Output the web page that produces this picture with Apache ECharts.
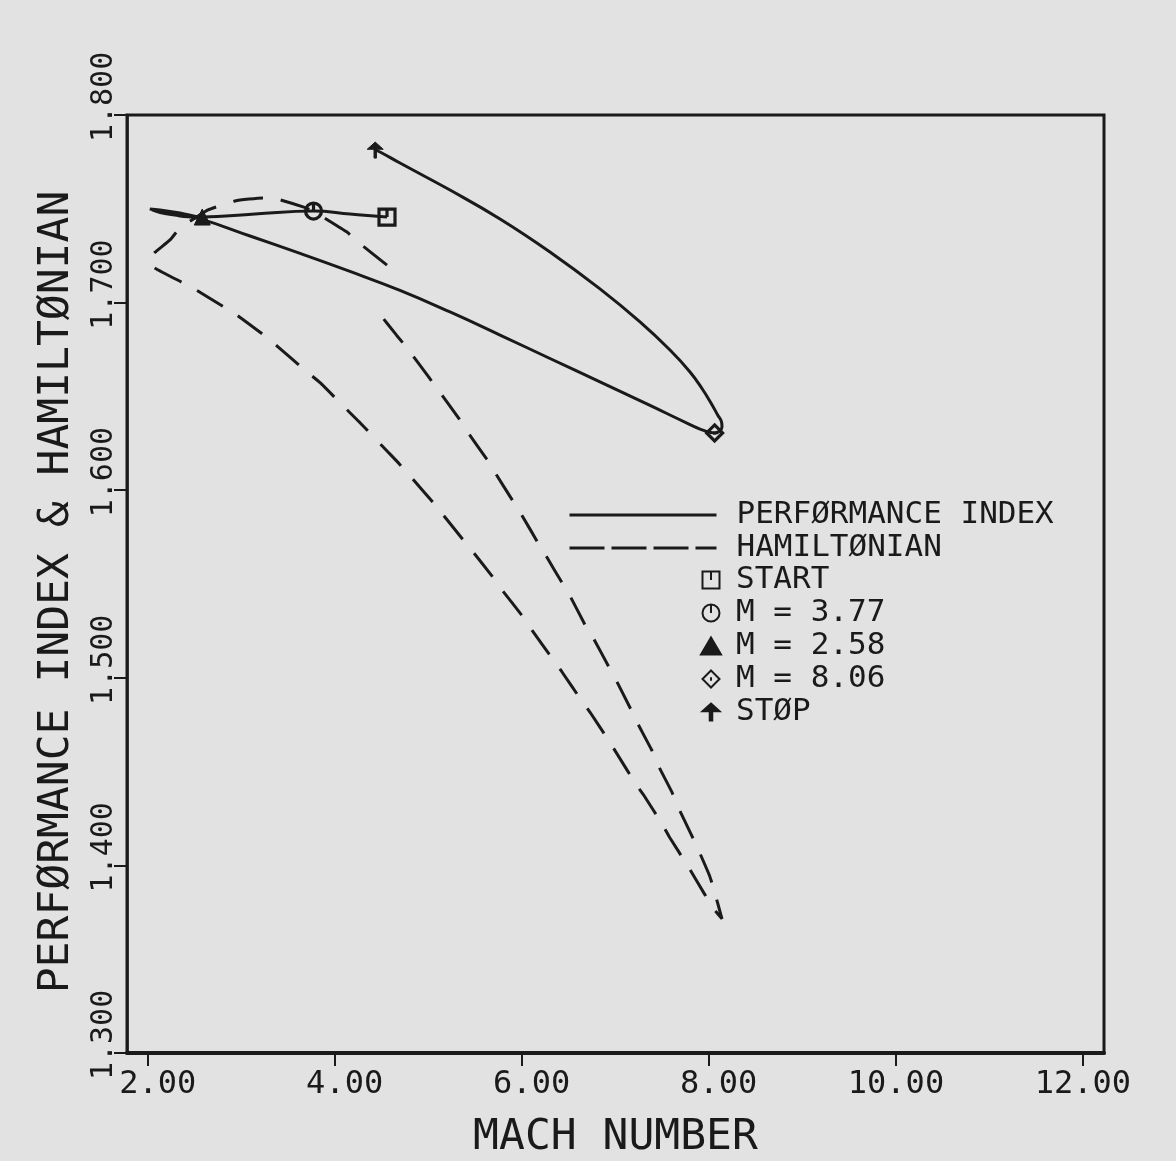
<!DOCTYPE html>
<html><head><meta charset="utf-8">
<script src="https://cdn.jsdelivr.net/npm/echarts@6/dist/echarts.min.js"></script>
<style>html,body{margin:0;padding:0;background:#e2e2e2;} #c{width:1176px;height:1161px;}</style>
</head><body><div id="c"></div>
<script>
// ---- data ----
const xTicks = [2, 4, 6, 8, 10, 12];
const yTicks = [1.3, 1.4, 1.5, 1.6, 1.7, 1.8];
const lineNames = ['PERFØRMANCE INDEX', 'HAMILTØNIAN'];

// Performance index trajectory (Mach, value), in flight order
const perfMach  = [4.556, 4.160, 3.770, 3.144, 2.580, 2.342, 2.128, 2.021, 2.128, 2.342, 2.556, 3.091, 3.626, 4.160, 4.695, 5.230, 5.765, 6.299, 6.834, 7.369, 7.797, 7.957, 8.060, 8.107, 8.139, 8.134, 8.096, 8.021, 7.925, 7.797, 7.583, 7.262, 6.834, 6.299, 5.765, 5.230, 4.695, 4.481, 4.430];
const perfValue = [1.7456, 1.7472, 1.7488, 1.7472, 1.7456, 1.7478, 1.7494, 1.7499, 1.7480, 1.7462, 1.7446, 1.7355, 1.7262, 1.7166, 1.7065, 1.6950, 1.6827, 1.6702, 1.6577, 1.6452, 1.6350, 1.6316, 1.6305, 1.6313, 1.6337, 1.6364, 1.6398, 1.6465, 1.6542, 1.6630, 1.6747, 1.6897, 1.7073, 1.7270, 1.7446, 1.7600, 1.7744, 1.7803, 1.7813];

// Hamiltonian trajectory (Mach, value), in flight order
const hamMach  = [4.556, 4.246, 4.128, 3.872, 3.770, 3.658, 3.380, 3.230, 3.080, 2.930, 2.791, 2.642, 2.503, 2.342, 2.235, 2.053, 2.021, 2.053, 2.371, 2.503, 2.816, 2.949, 3.262, 3.387, 3.697, 3.840, 4.142, 4.267, 4.564, 4.688, 4.963, 5.080, 5.329, 5.436, 5.682, 5.775, 6.014, 6.110, 6.328, 6.428, 6.638, 6.735, 6.934, 7.023, 7.219, 7.308, 7.505, 7.583, 7.772, 7.858, 8.046, 8.139, 8.046, 8.003, 7.868, 7.804, 7.654, 7.601, 7.441, 7.387, 7.227, 7.162, 7.005, 6.930, 6.763, 6.681, 6.521, 6.442, 6.257, 6.174, 5.997, 5.907, 5.711, 5.629, 5.415, 5.326, 5.105, 5.005, 4.778, 4.660, 4.452];
const hamValue = [1.7200, 1.7323, 1.7376, 1.7456, 1.7488, 1.7510, 1.7552, 1.7558, 1.7552, 1.7542, 1.7520, 1.7494, 1.7451, 1.7398, 1.7334, 1.7259, 1.7227, 1.7190, 1.7106, 1.7071, 1.6975, 1.6934, 1.6818, 1.6765, 1.6632, 1.6573, 1.6422, 1.6360, 1.6205, 1.6140, 1.5984, 1.5916, 1.5761, 1.5696, 1.5541, 1.5475, 1.5323, 1.5251, 1.5100, 1.5031, 1.4878, 1.4811, 1.4660, 1.4589, 1.4432, 1.4370, 1.4215, 1.4146, 1.3998, 1.3926, 1.3771, 1.3715, 1.3883, 1.3949, 1.4104, 1.4171, 1.4327, 1.4393, 1.4548, 1.4615, 1.4766, 1.4834, 1.4989, 1.5057, 1.5211, 1.5276, 1.5429, 1.5495, 1.5650, 1.5717, 1.5868, 1.5939, 1.6094, 1.6161, 1.6312, 1.6381, 1.6534, 1.6601, 1.6753, 1.6825, 1.6955];

// Event markers on the performance-index trajectory
const markerNames = ['START', 'M = 3.77', 'M = 2.58', 'M = 8.06', 'STØP'];
const markerMach  = [4.556, 3.77, 2.58, 8.06, 4.43];
const markerValue = [1.7456, 1.7488, 1.7456, 1.6305, 1.7813];

// ---- styling ----
const INK = '#1a1a1a';
const FONT = 'DejaVu Sans Mono';
const markerSymbols = [
  'path://M0,0L20,0L20,20L0,20Z M10,0L10,10',
  'path://M10,0A10,10 0 0,1 10,20A10,10 0 0,1 10,0Z M10,0L10,10',
  'triangle',
  'path://M10,0L20,10L10,20L0,10Z M10,8L10,12',
  'path://M10,0L20,9L11.5,9L11.5,20L8.5,20L8.5,9L0,9Z'
];
const markerFilled = [false, false, true, false, true];

const zip = (a, b) => a.map((v, i) => [v, b[i]]);

const series = [
  {
    name: lineNames[0], type: 'line', data: zip(perfMach, perfValue),
    symbol: 'none', smooth: 0.45, z: 3,
    lineStyle: { color: INK, width: 3 }, itemStyle: { color: INK }
  },
  {
    name: lineNames[1], type: 'line', data: zip(hamMach, hamValue),
    symbol: 'none', smooth: 0.15, z: 2,
    lineStyle: { color: INK, width: 3, type: [30, 18] }, itemStyle: { color: INK }
  }
];
markerNames.forEach((n, i) => {
  series.push({
    name: n, type: 'scatter', data: [[markerMach[i], markerValue[i]]],
    symbol: markerSymbols[i], symbolSize: 16, z: 5,
    itemStyle: markerFilled[i]
      ? { color: INK, borderColor: INK, borderWidth: 1, opacity: 1 }
      : { color: 'rgba(0,0,0,0)', borderColor: INK, borderWidth: 3.2, opacity: 1 }
  });
});

const hiddenSymbol = { color: 'rgba(0,0,0,0)', borderColor: 'rgba(0,0,0,0)', borderWidth: 0, opacity: 0 };

const chart = echarts.init(document.getElementById('c'), null, { renderer: 'canvas' });
chart.setOption({
  backgroundColor: '#e2e2e2',
  animation: false,
  grid: {
    left: 127, top: 115, right: 72, bottom: 108,
    show: true, borderColor: INK, borderWidth: 3, backgroundColor: 'transparent',
    containLabel: false, outerBoundsMode: 'none'
  },
  xAxis: {
    type: 'value', min: 1.775, max: 12.225,
    name: 'MACH NUMBER', nameLocation: 'middle', nameGap: 63,
    nameTextStyle: { fontFamily: FONT, fontSize: 43, color: INK },
    axisLine: { show: true, onZero: false, lineStyle: { color: INK, width: 4 } },
    axisTick: { show: true, inside: false, length: 13, customValues: xTicks, lineStyle: { color: INK, width: 2 } },
    axisLabel: {
      customValues: xTicks, margin: 16, align: 'center',
      fontFamily: FONT, fontSize: 32, color: INK,
      formatter: v => Number(v).toFixed(2).padStart(5, ' ')
    },
    splitLine: { show: false }
  },
  yAxis: {
    type: 'value', min: 1.3, max: 1.8,
    name: 'PERFØRMANCE INDEX & HAMILTØNIAN', nameLocation: 'middle', nameGap: 49,
    nameTextStyle: { fontFamily: FONT, fontSize: 43, color: INK, padding: [0, 16, 0, 0] },
    axisLine: { show: true, onZero: false, lineStyle: { color: INK, width: 2.5 } },
    axisTick: { show: true, inside: false, length: 13, customValues: yTicks, lineStyle: { color: INK, width: 2 } },
    axisLabel: {
      customValues: yTicks, rotate: 90, margin: 8, align: 'center', verticalAlign: 'bottom',
      fontFamily: FONT, fontSize: 30, color: INK,
      formatter: v => Number(v).toFixed(3).padStart(7, ' ')
    },
    splitLine: { show: false }
  },
  legend: [
    {
      orient: 'vertical', left: 568, top: 498.5, padding: 0, itemGap: 0,
      itemWidth: 147, itemHeight: 10, selectedMode: false,
      lineStyle: { width: 3 },
      itemStyle: hiddenSymbol,
      textStyle: { fontFamily: FONT, fontSize: 31, color: INK, lineHeight: 33, padding: [0, 0, 0, 15] },
      data: [
        { name: lineNames[0], itemStyle: hiddenSymbol },
        { name: lineNames[1], itemStyle: hiddenSymbol, lineStyle: { type: [35, 7], width: 3 } }
      ]
    },
    {
      orient: 'vertical', left: 700, top: 563.5, padding: 0, itemGap: 0,
      itemWidth: 20, itemHeight: 17, selectedMode: false,
      textStyle: { fontFamily: FONT, fontSize: 31, color: INK, lineHeight: 33, padding: [0, 0, 0, 10] },
      data: markerNames
    }
  ],
  series: series
});
</script>
</body></html>
